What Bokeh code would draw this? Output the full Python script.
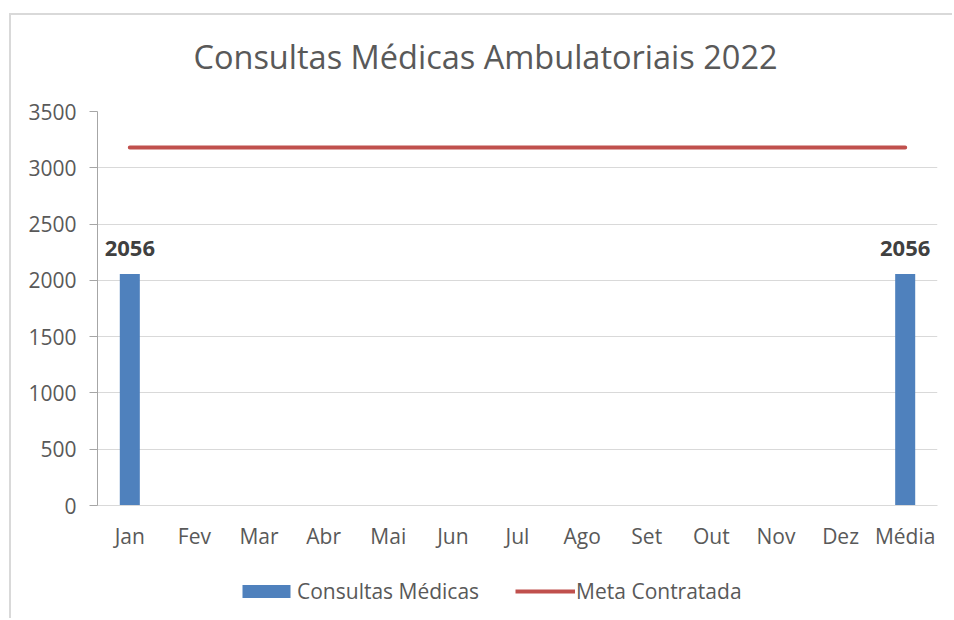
from bokeh.plotting import figure
from bokeh.layouts import column
from bokeh.models import (ColumnDataSource, FactorRange, Range1d, Legend, LegendItem,
                          LabelSet, Label, FixedTicker)
from bokeh.core.properties import value
from bokeh.embed import file_html
from bokeh.resources import INLINE

categories = ["Jan", "Fev", "Mar", "Abr", "Mai", "Jun", "Jul", "Ago", "Set", "Out", "Nov", "Dez", "Média"]
consultas = [2056, None, None, None, None, None, None, None, None, None, None, None, 2056]
meta = [3180, 3180, 3180, 3180, 3180, 3180, 3180, 3180, 3180, 3180, 3180, 3180, 3180]
y_ticks = [0, 500, 1000, 1500, 2000, 2500, 3000, 3500]
title_text = "Consultas Médicas Ambulatoriais 2022"
series_names = ["Consultas Médicas", "Meta Contratada"]

FONT = "Open Sans"
GREY = "#595959"
BLUE = "#4F81BD"
RED = "#C0504D"
BORDER = "2px solid #D9D9D9"
W = 943


def blank(height, x_range, y_range, top=False):
    f = figure(width=W, height=height, output_backend="svg", toolbar_location=None,
               x_axis_location=None, y_axis_location=None, min_border=0,
               x_range=x_range, y_range=y_range)
    f.outline_line_color = None
    f.grid.visible = False
    st = {"margin-left": "9px", "border-left": BORDER}
    if top:
        st.update({"margin-top": "13px", "border-top": BORDER})
    f.styles = st
    return f


src = ColumnDataSource(dict(
    cat=categories,
    top=[float("nan") if v is None else v for v in consultas],
    meta=meta,
    lbl=["" if v is None else str(v) for v in consultas],
))

# ---- title strip ----
tf = blank(80, Range1d(0, 1), Range1d(0, 1), top=True)
tf.add_layout(Label(x=388, y=39, x_units="screen", y_units="screen", text=title_text,
                    text_align="center", text_baseline="alphabetic", text_font=FONT,
                    text_font_size="32.5px", text_color=GREY))

# ---- main chart ----
p = figure(width=W, height=465, x_range=FactorRange(*categories, range_padding=0),
           y_range=Range1d(0, 3500), output_backend="svg", toolbar_location=None,
           min_border_left=86, min_border_right=17, min_border_top=18, min_border_bottom=53)
p.styles = {"margin-left": "9px", "border-left": BORDER}
p.outline_line_color = None
p.background_fill_color = "white"
p.border_fill_color = "white"

bars = p.vbar(x="cat", top="top", width=0.31, source=src, fill_color=BLUE, line_color=None)
line = p.line(x="cat", y="meta", source=src, line_color=RED, line_width=4, line_cap="round")

p.add_layout(LabelSet(x="cat", y="top", text="lbl", source=src, text_align="center",
                      text_baseline="alphabetic", y_offset=18, text_font=value(FONT),
                      text_font_size="22px", text_font_style="bold", text_color="#404040"))

p.yaxis.ticker = FixedTicker(ticks=y_ticks)
p.yaxis.axis_line_color = "#A6A6A6"
p.yaxis.major_tick_line_color = "#A6A6A6"
p.yaxis.major_tick_out = 8
p.yaxis.major_tick_in = 0
p.yaxis.minor_tick_line_color = None
p.yaxis.major_label_standoff = 13
p.yaxis.major_label_text_font = FONT
p.yaxis.major_label_text_font_size = "21px"
p.yaxis.major_label_text_color = GREY

p.xaxis.axis_line_color = "#D9D9D9"
p.xaxis.major_tick_line_color = None
p.xaxis.minor_tick_line_color = None
p.xaxis.major_label_standoff = 10
p.xaxis.major_label_text_font = FONT
p.xaxis.major_label_text_font_size = "21px"
p.xaxis.major_label_text_color = GREY

p.xgrid.grid_line_color = None
p.ygrid.grid_line_color = "#D9D9D9"
p.ygrid.grid_line_width = 1

# ---- legend strip (series drawn out of view; only their legend swatches show) ----
lf = blank(60, FactorRange(*categories, range_padding=0), Range1d(4000, 5000))
lbar = lf.vbar(x="cat", top="top", width=0.31, source=src, fill_color=BLUE, line_color=None)
lline = lf.line(x="cat", y="meta", source=src, line_color=RED, line_width=4)
legend = Legend(items=[LegendItem(label=series_names[0], renderers=[lbar]),
                       LegendItem(label=series_names[1], renderers=[lline])],
                orientation="horizontal", location=(139, 13),
                glyph_width=60, glyph_height=16, label_standoff=1, spacing=36,
                padding=0, margin=0, border_line_color=None, background_fill_alpha=0,
                label_text_font=FONT, label_text_font_size="21px", label_text_color=GREY)
lf.add_layout(legend)

layout = column(tf, p, lf, spacing=0)
open("out.html", "w").write(file_html(layout, INLINE))
